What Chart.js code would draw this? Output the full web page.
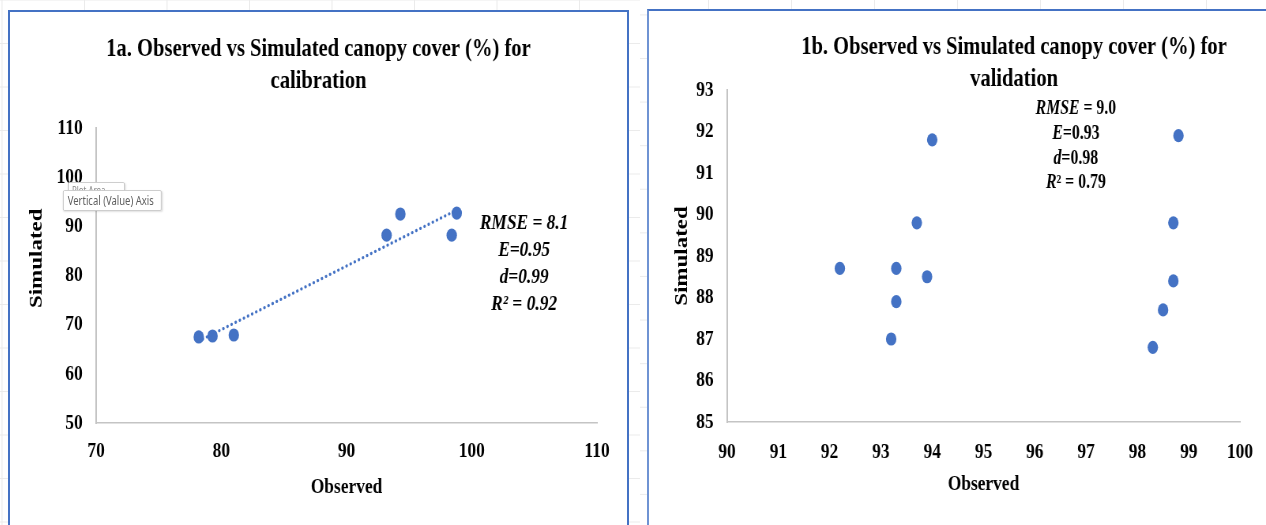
<!DOCTYPE html>
<html>
<head>
<meta charset="utf-8">
<script src="https://cdn.jsdelivr.net/npm/chart.js@4.4.1/dist/chart.umd.min.js"></script>
<style>
  html, body { margin: 0; padding: 0; width: 1266px; height: 525px; overflow: hidden; background: #fff; }
  .bg { position: absolute; top: 0; height: 525px; }
  #bgA { left: 0; width: 640px;
    background-image: linear-gradient(to bottom, #ebebeb 1px, transparent 1px), linear-gradient(to right, #ebebeb 1px, transparent 1px);
    background-size: 100% 43.5px, 82.5px 100%; background-position: 0 -0.5px, 1.5px 0; }
  #bgB { left: 640px; width: 626px;
    background-image: linear-gradient(to bottom, #ebebeb 1px, transparent 1px), linear-gradient(to right, #ebebeb 1px, transparent 1px);
    background-size: 100% 43.6px, 83px 100%; background-position: 0 14.4px, 68px 0; }
  .frame { position: absolute; background: #fff; border: 2px solid #4472C4; overflow: hidden; }
  #frameA { left: 8px; top: 10px; width: 617px; height: 600px; }
  #frameB { left: 647px; top: 9px; width: 730px; height: 600px; border-left-color: #6f93d3; }
  canvas { position: absolute; left: 0; top: 0; }
  .tip { position: absolute; background: #fff; border: 1px solid #c8c8c8; border-radius: 2px;
         font-family: 'Noto Sans', 'Open Sans', sans-serif; color: #5f5f5f; white-space: nowrap;
         transform: scaleX(0.79); transform-origin: left top; box-shadow: 1px 1px 2px rgba(0,0,0,0.12); }
  #tipBack { left: 68px; top: 182px; width: 66px; height: 15px; font-size: 10px; line-height: 15px; padding-left: 4px; z-index: 2; color: #8a8a8a; }
  #tipFront { left: 63px; top: 190px; width: 118px; height: 19px; font-size: 12px; line-height: 19px; padding-left: 5px; z-index: 3; }
</style>
</head>
<body>
<div id="bgA" class="bg"></div>
<div id="bgB" class="bg"></div>
<div id="frameA" class="frame"><canvas id="chartA" width="781" height="513" style="width:617px;height:513px"></canvas></div>
<div id="frameB" class="frame"><canvas id="chartB" width="924" height="514" style="width:730px;height:514px"></canvas></div>
<div id="tipBack" class="tip">Plot Area</div>
<div id="tipFront" class="tip">Vertical (Value) Axis</div>

<script>
// ---------------- data ----------------
const calibObserved  = [78.2, 79.3, 81.0, 93.2, 94.3, 98.4, 98.8];
const calibSimulated = [67.5, 67.7, 67.9, 88.2, 92.5, 88.2, 92.7];

const validObserved  = [92.2, 93.3, 93.3, 93.2, 93.7, 93.9, 94.0, 98.3, 98.5, 98.7, 98.7, 98.8];
const validSimulated = [88.7, 88.7, 87.9, 87.0, 89.8, 88.5, 91.8, 86.8, 87.7, 88.4, 89.8, 91.9];

const calibXTicks = [70, 80, 90, 100, 110];
const calibYTicks = [50, 60, 70, 80, 90, 100, 110];
const validXTicks = [90, 91, 92, 93, 94, 95, 96, 97, 98, 99, 100];
const validYTicks = [85, 86, 87, 88, 89, 90, 91, 92, 93];

const calibTitle = ['1a. Observed vs Simulated canopy cover (%) for', 'calibration'];
const validTitle = ['1b. Observed vs Simulated canopy cover (%) for', 'validation'];
const calibStats = ['RMSE = 8.1', 'E=0.95', 'd=0.99', 'R\u00B2 = 0.92'];
const validStats = ['RMSE = 9.0', 'E=0.93', 'd=0.98', 'R\u00B2 = 0.79'];
const xAxisTitle = 'Observed';
const yAxisTitle = 'Simulated';

// ---------------- helpers ----------------
const SERIF = "'Liberation Serif', 'Times New Roman', serif";
const BLUE = '#4472C4';

function linearFit(xs, ys) {
  const n = xs.length;
  const mx = xs.reduce((a, b) => a + b, 0) / n;
  const my = ys.reduce((a, b) => a + b, 0) / n;
  let sxy = 0, sxx = 0;
  for (let i = 0; i < n; i++) { sxy += (xs[i] - mx) * (ys[i] - my); sxx += (xs[i] - mx) ** 2; }
  const slope = sxy / sxx;
  return { slope, intercept: my - slope * mx };
}

function points(xs, ys) { return xs.map((x, i) => ({ x, y: ys[i] })); }

function statsPlugin(lines, cfg) {
  return {
    id: 'statsNote',
    afterDatasetsDraw(chart) {
      const { ctx, scales } = chart;
      const cx = scales.x.getPixelForValue(cfg.x);
      const cy = scales.y.getPixelForValue(cfg.y);
      ctx.save();
      ctx.fillStyle = '#000';
      ctx.textBaseline = 'middle';
      ctx.textAlign = 'left';
      lines.forEach((line, i) => {
        let segs;
        if (cfg.allItalic) segs = [{ t: line, it: true }];
        else {
          const m = line.match(/^([A-Za-z]+)(.*)$/);
          segs = [{ t: m[1], it: true }, { t: m[2], it: false }];
        }
        let total = 0;
        segs.forEach(s => {
          ctx.font = (s.it ? 'italic ' : '') + 'bold ' + cfg.size + 'px ' + SERIF;
          s.w = ctx.measureText(s.t).width; total += s.w;
        });
        let px = cx - total / 2;
        segs.forEach(s => {
          ctx.font = (s.it ? 'italic ' : '') + 'bold ' + cfg.size + 'px ' + SERIF;
          ctx.fillText(s.t, px, cy + i * cfg.gap);
          px += s.w;
        });
      });
      ctx.restore();
    }
  };
}

function makeOptions(p) {
  return {
    responsive: false,
    animation: false,
    devicePixelRatio: 1,
    layout: { padding: 0 },
    plugins: {
      legend: { display: false },
      tooltip: { enabled: false },
      title: {
        display: true, text: p.title, color: '#000',
        font: { family: SERIF, size: 26, weight: 'bold', lineHeight: 1.25 },
        padding: { top: p.titleTop, bottom: p.titleBottom }
      }
    },
    scales: {
      x: {
        type: 'linear', min: p.xTicks[0], max: p.xTicks[p.xTicks.length - 1],
        afterBuildTicks: s => { s.ticks = p.xTicks.map(v => ({ value: v })); },
        afterFit: s => { s.height = p.xHeight; },
        grid: { display: false, drawTicks: false },
        border: { display: true, color: '#c4c4c4', width: 1.5 },
        ticks: { padding: p.xTickPad, color: '#000', autoSkip: false, maxRotation: 0,
                 font: { family: SERIF, size: 22, weight: 'bold', lineHeight: 1.2 } },
        title: { display: true, text: xAxisTitle, color: '#000',
                 font: { family: SERIF, size: 22, weight: 'bold', lineHeight: 1.2 },
                 padding: { top: 0, bottom: p.xTitleBottom } }
      },
      y: {
        type: 'linear', min: p.yTicks[0], max: p.yTicks[p.yTicks.length - 1],
        afterBuildTicks: s => { s.ticks = p.yTicks.map(v => ({ value: v })); },
        afterFit: s => { s.width = p.yWidth; },
        grid: { display: false, drawTicks: false },
        border: { display: true, color: '#c4c4c4', width: 2 },
        ticks: { padding: 17, color: '#000', autoSkip: false,
                 font: { family: SERIF, size: 22, weight: 'bold', lineHeight: 1.2 } },
        title: { display: true, text: p.yTitleText, color: '#000',
                 font: { family: SERIF, size: 23, weight: 'bold', lineHeight: 1.2 },
                 padding: { top: p.yTitleTop, bottom: 0 } }
      },
      // empty spacer on the right side so the title is centred over the whole chart object
      spacer: {
        type: 'linear', position: 'right', display: true,
        afterFit: s => { s.width = p.rightSpace; },
        grid: { display: false, drawTicks: false },
        border: { display: false },
        ticks: { display: false }
      }
    }
  };
}

// ---------------- chart 1a ----------------
const fit = linearFit(calibObserved, calibSimulated);
const xLo = Math.min(...calibObserved), xHi = Math.max(...calibObserved);
const trend = [{ x: xLo, y: fit.intercept + fit.slope * xLo }, { x: xHi, y: fit.intercept + fit.slope * xHi }];

new Chart(document.getElementById('chartA'), {
  type: 'scatter',
  data: {
    datasets: [
      { label: 'Linear (Simulated)', data: trend, showLine: true, pointRadius: 0, pointHoverRadius: 0,
        borderColor: BLUE, borderWidth: 3.2, borderDash: [0.1, 5.5], borderCapStyle: 'round', fill: false },
      { label: 'Simulated', data: points(calibObserved, calibSimulated), showLine: false,
        pointRadius: 6.6, pointHoverRadius: 6.6, backgroundColor: BLUE, borderColor: BLUE, borderWidth: 0 }
    ]
  },
  options: makeOptions({
    title: calibTitle, xTicks: calibXTicks, yTicks: calibYTicks,
    rightSpace: 38, titleTop: 20.75, titleBottom: 30.25, xHeight: 102, yWidth: 108.9,
    xTickPad: 15, xTitleBottom: 24, yTitleTop: 20,
    yTitleText: '\u2003\u2002' + yAxisTitle
  }),
  plugins: [statsPlugin(calibStats, { x: 104.18, y: 90.65, gap: 27, size: 22, allItalic: true })]
});

// ---------------- chart 1b ----------------
new Chart(document.getElementById('chartB'), {
  type: 'scatter',
  data: {
    datasets: [
      { label: 'Simulated', data: points(validObserved, validSimulated), showLine: false,
        pointRadius: 6.6, pointHoverRadius: 6.6, backgroundColor: BLUE, borderColor: BLUE, borderWidth: 0 }
    ]
  },
  options: makeOptions({
    title: validTitle, xTicks: validXTicks, yTicks: validYTicks,
    rightSpace: 175.9, titleTop: 19.75, titleBottom: -5.75, xHeight: 103, yWidth: 98.7,
    xTickPad: 17, xTitleBottom: 27, yTitleTop: 28,
    yTitleText: yAxisTitle
  }),
  plugins: [statsPlugin(validStats, { x: 96.8, y: 92.54, gap: 24.7, size: 20, allItalic: false })]
});
</script>
</body>
</html>
